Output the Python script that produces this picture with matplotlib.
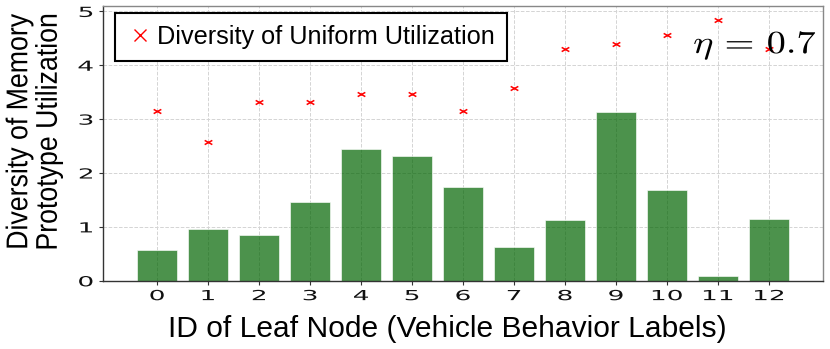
import numpy as np
import matplotlib
matplotlib.use("Agg")
import matplotlib.pyplot as plt
from matplotlib.patheffects import AbstractPathEffect
from matplotlib.transforms import Affine2D
from matplotlib.path import Path
from matplotlib.lines import Line2D

# ---- data ----
leaf_ids = [0, 1, 2, 3, 4, 5, 6, 7, 8, 9, 10, 11, 12]
tick_labels = ["0", "1", "2", "3", "4", "5", "6", "7", "8", "9", "10", "11", "12"]
memory_diversity = [0.58, 0.97, 0.85, 1.46, 2.44, 2.32, 1.75, 0.62, 1.12, 3.13, 1.68, 0.08, 1.15]
uniform_diversity = [3.16, 2.58, 3.32, 3.32, 3.46, 3.46, 3.16, 3.58, 4.31, 4.39, 4.57, 4.84, 4.31]
y_ticks = [0, 1, 2, 3, 4, 5]
legend_label = "Diversity of Uniform Utilization"
eta_text = r"$\eta\,=\,0.7$"


class Stretch(AbstractPathEffect):
    """Scale glyphs along the text direction about an anchor of the ink box."""
    def __init__(self, sx=1.0, sy=1.0, anchor=0.5):
        super().__init__()
        self.sx, self.sy, self.anchor = sx, sy, anchor

    def draw_path(self, renderer, gc, tpath, affine, rgbFace=None):
        v = tpath.vertices
        codes = tpath.codes
        if codes is not None and len(v):
            m = codes != Path.CLOSEPOLY
            v = v[m]
        if len(v):
            x0, x1 = v[:, 0].min(), v[:, 0].max()
            cx = x0 + (x1 - x0) * self.anchor
        else:
            cx = 0.0
        t = Affine2D().translate(-cx, 0).scale(self.sx, self.sy).translate(cx, 0)
        renderer.draw_path(gc, tpath, t + affine, rgbFace)


plt.rcParams["font.family"] = ["Liberation Sans", "DejaVu Sans"]
plt.rcParams["mathtext.fontset"] = "cm"

W, H = 830, 349
fig = plt.figure(figsize=(W / 100, H / 100), dpi=100)
ax = fig.add_axes([103 / W, 1 - 280.8 / H, 720 / W, 274.8 / H])

ax.set_axisbelow(True)
ax.grid(True, color="#d4d4d4", linestyle="--", linewidth=0.7)

ax.bar(leaf_ids, memory_diversity, width=0.8, color="darkgreen", alpha=0.7,
       edgecolor="white", linewidth=0.6, zorder=2)

# horizontally stretched x marker
xm = Path([(-1, -0.55), (1, 0.55), (-1, 0.55), (1, -0.55)],
          [Path.MOVETO, Path.LINETO, Path.MOVETO, Path.LINETO])
ax.plot(leaf_ids, uniform_diversity, linestyle="none", marker=xm, markersize=5.5,
        markeredgewidth=1.1, color="red", zorder=3)

ax.set_xlim(-1.06, 13.06)
ax.set_ylim(0, 5.1)
ax.set_xticks(leaf_ids, tick_labels)
ax.set_yticks(y_ticks, [str(t) for t in y_ticks])
ax.tick_params(axis="both", length=3, width=0.8, color="#333333", labelsize=10,
               labelcolor="#111111")
ax.tick_params(axis="x", pad=3)
ax.tick_params(axis="y", pad=4)
for lab in ax.get_xticklabels():
    lab.set_fontfamily("DejaVu Sans")
    lab.set_path_effects([Stretch(sx=1.9, anchor=0.5)])
for lab in ax.get_yticklabels():
    lab.set_fontfamily("DejaVu Sans")
    lab.set_path_effects([Stretch(sx=1.9, anchor=1.0)])

for side in ["left", "bottom"]:
    ax.spines[side].set_color("#333333")
    ax.spines[side].set_linewidth(1.0)
for side in ["top", "right"]:
    ax.spines[side].set_color("#888888")
    ax.spines[side].set_linewidth(1.0)

ax.set_xlabel("ID of Leaf Node (Vehicle Behavior Labels)", fontsize=21.6, labelpad=8.5)
ax.xaxis.label.set_x(0.4785)
yl = ax.set_ylabel("Diversity of Memory\nPrototype Utilization", fontsize=21.6,
                   verticalalignment="center", linespacing=1.07)
ax.yaxis.set_label_coords(-0.0958, 0.5415)
yl.set_path_effects([Stretch(sx=0.89, anchor=0.5)])

handle = Line2D([], [], linestyle="none", marker="x", markersize=8, markeredgewidth=1.0,
                color="red")
leg = ax.legend([handle], [legend_label], loc="upper left",
                bbox_to_anchor=(0.0167, 0.9756), borderaxespad=0, fontsize=18.2,
                frameon=True, fancybox=False, framealpha=1, edgecolor="black",
                handlelength=1.0, handletextpad=0.2, borderpad=0.48)
leg.get_frame().set_linewidth(1.5)

t = ax.text(0.9917, 0.829, eta_text, transform=ax.transAxes, ha="right",
            va="baseline", fontsize=23, zorder=4)
t.set_path_effects([Stretch(sx=1.2, anchor=1.0)])

fig.savefig("out.png", dpi=100)
